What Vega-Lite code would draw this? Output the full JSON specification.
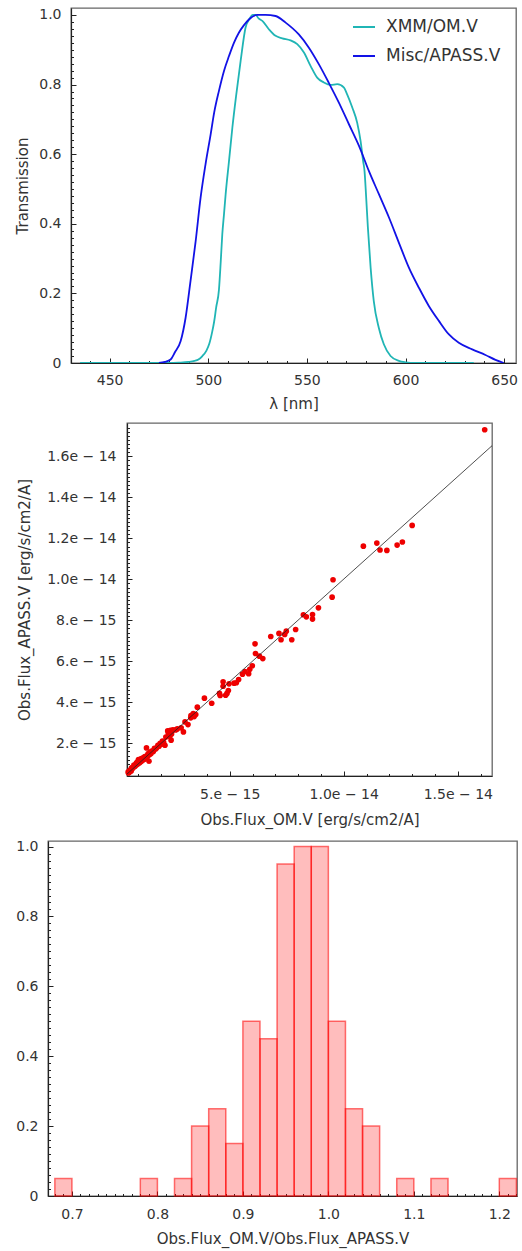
{
  "$schema": "https://vega.github.io/schema/vega-lite/v6.json",
  "background": "white",
  "padding": {"left": 0, "top": 7, "right": 0, "bottom": 6},
  "columns": 1,
  "align": "none",
  "spacing": 10,
  "resolve": {"scale": {"color": "independent"}, "legend": {"color": "independent"}},
  "concat": [
    {
      "spacing": 0,
      "resolve": {"scale": {"color": "independent"}, "legend": {"color": "independent"}},
      "hconcat": [
        {"width": 15, "height": 10, "data": {"values": [{"s": 0}]}, "mark": {"type": "point", "opacity": 0}, "encoding": {}, "view": {"stroke": null}},
        {
          "width": 445, "height": 355,
          "data": {"values": [
            {"filter": "XMM/OM.V", "wl": 435, "t": 0},
            {"filter": "XMM/OM.V", "wl": 450, "t": 0},
            {"filter": "XMM/OM.V", "wl": 470, "t": 0},
            {"filter": "XMM/OM.V", "wl": 480, "t": 0},
            {"filter": "XMM/OM.V", "wl": 485, "t": 0.001},
            {"filter": "XMM/OM.V", "wl": 490, "t": 0.003},
            {"filter": "XMM/OM.V", "wl": 493, "t": 0.006},
            {"filter": "XMM/OM.V", "wl": 495, "t": 0.01},
            {"filter": "XMM/OM.V", "wl": 497, "t": 0.02},
            {"filter": "XMM/OM.V", "wl": 499, "t": 0.035},
            {"filter": "XMM/OM.V", "wl": 500.5, "t": 0.055},
            {"filter": "XMM/OM.V", "wl": 502, "t": 0.09},
            {"filter": "XMM/OM.V", "wl": 503, "t": 0.12},
            {"filter": "XMM/OM.V", "wl": 504, "t": 0.16},
            {"filter": "XMM/OM.V", "wl": 505.4, "t": 0.21},
            {"filter": "XMM/OM.V", "wl": 506.3, "t": 0.29},
            {"filter": "XMM/OM.V", "wl": 507.1, "t": 0.37},
            {"filter": "XMM/OM.V", "wl": 508, "t": 0.43},
            {"filter": "XMM/OM.V", "wl": 508.8, "t": 0.485},
            {"filter": "XMM/OM.V", "wl": 510.5, "t": 0.58},
            {"filter": "XMM/OM.V", "wl": 512.2, "t": 0.676},
            {"filter": "XMM/OM.V", "wl": 514.2, "t": 0.772},
            {"filter": "XMM/OM.V", "wl": 516.4, "t": 0.868},
            {"filter": "XMM/OM.V", "wl": 518.9, "t": 0.964},
            {"filter": "XMM/OM.V", "wl": 521, "t": 0.99},
            {"filter": "XMM/OM.V", "wl": 522.5, "t": 1.0},
            {"filter": "XMM/OM.V", "wl": 524, "t": 1.0},
            {"filter": "XMM/OM.V", "wl": 525.5, "t": 0.99},
            {"filter": "XMM/OM.V", "wl": 527.4, "t": 0.983},
            {"filter": "XMM/OM.V", "wl": 530.7, "t": 0.959},
            {"filter": "XMM/OM.V", "wl": 534.1, "t": 0.94},
            {"filter": "XMM/OM.V", "wl": 537.5, "t": 0.933},
            {"filter": "XMM/OM.V", "wl": 541.7, "t": 0.927},
            {"filter": "XMM/OM.V", "wl": 545.1, "t": 0.916},
            {"filter": "XMM/OM.V", "wl": 548.5, "t": 0.892},
            {"filter": "XMM/OM.V", "wl": 551.9, "t": 0.853},
            {"filter": "XMM/OM.V", "wl": 555.2, "t": 0.82},
            {"filter": "XMM/OM.V", "wl": 558.6, "t": 0.806},
            {"filter": "XMM/OM.V", "wl": 562, "t": 0.799},
            {"filter": "XMM/OM.V", "wl": 565.4, "t": 0.801},
            {"filter": "XMM/OM.V", "wl": 568.8, "t": 0.791},
            {"filter": "XMM/OM.V", "wl": 570.4, "t": 0.772},
            {"filter": "XMM/OM.V", "wl": 573, "t": 0.734},
            {"filter": "XMM/OM.V", "wl": 575.5, "t": 0.69},
            {"filter": "XMM/OM.V", "wl": 577.2, "t": 0.638},
            {"filter": "XMM/OM.V", "wl": 578.5, "t": 0.58},
            {"filter": "XMM/OM.V", "wl": 579.2, "t": 0.552},
            {"filter": "XMM/OM.V", "wl": 580, "t": 0.48},
            {"filter": "XMM/OM.V", "wl": 580.9, "t": 0.39},
            {"filter": "XMM/OM.V", "wl": 582.3, "t": 0.274},
            {"filter": "XMM/OM.V", "wl": 583.9, "t": 0.178},
            {"filter": "XMM/OM.V", "wl": 586.5, "t": 0.1},
            {"filter": "XMM/OM.V", "wl": 589, "t": 0.054},
            {"filter": "XMM/OM.V", "wl": 592.4, "t": 0.02},
            {"filter": "XMM/OM.V", "wl": 596.6, "t": 0.006},
            {"filter": "XMM/OM.V", "wl": 600, "t": 0.002},
            {"filter": "XMM/OM.V", "wl": 605, "t": 0},
            {"filter": "XMM/OM.V", "wl": 634.6, "t": 0},
            {"filter": "Misc/APASS.V", "wl": 475, "t": 0},
            {"filter": "Misc/APASS.V", "wl": 478, "t": 0.003},
            {"filter": "Misc/APASS.V", "wl": 480.9, "t": 0.01},
            {"filter": "Misc/APASS.V", "wl": 483, "t": 0.03},
            {"filter": "Misc/APASS.V", "wl": 486, "t": 0.063},
            {"filter": "Misc/APASS.V", "wl": 488.5, "t": 0.13},
            {"filter": "Misc/APASS.V", "wl": 491, "t": 0.236},
            {"filter": "Misc/APASS.V", "wl": 493.6, "t": 0.35},
            {"filter": "Misc/APASS.V", "wl": 496.1, "t": 0.475},
            {"filter": "Misc/APASS.V", "wl": 498.6, "t": 0.571},
            {"filter": "Misc/APASS.V", "wl": 501.2, "t": 0.657},
            {"filter": "Misc/APASS.V", "wl": 503, "t": 0.72},
            {"filter": "Misc/APASS.V", "wl": 505.4, "t": 0.782},
            {"filter": "Misc/APASS.V", "wl": 508, "t": 0.84},
            {"filter": "Misc/APASS.V", "wl": 510.5, "t": 0.882},
            {"filter": "Misc/APASS.V", "wl": 513, "t": 0.92},
            {"filter": "Misc/APASS.V", "wl": 515.5, "t": 0.949},
            {"filter": "Misc/APASS.V", "wl": 518, "t": 0.97},
            {"filter": "Misc/APASS.V", "wl": 520.6, "t": 0.987},
            {"filter": "Misc/APASS.V", "wl": 524.8, "t": 1.0},
            {"filter": "Misc/APASS.V", "wl": 529, "t": 1.0},
            {"filter": "Misc/APASS.V", "wl": 534.1, "t": 0.997},
            {"filter": "Misc/APASS.V", "wl": 539.2, "t": 0.978},
            {"filter": "Misc/APASS.V", "wl": 545.9, "t": 0.944},
            {"filter": "Misc/APASS.V", "wl": 551, "t": 0.906},
            {"filter": "Misc/APASS.V", "wl": 556.1, "t": 0.858},
            {"filter": "Misc/APASS.V", "wl": 561.1, "t": 0.805},
            {"filter": "Misc/APASS.V", "wl": 566.2, "t": 0.748},
            {"filter": "Misc/APASS.V", "wl": 571.3, "t": 0.686},
            {"filter": "Misc/APASS.V", "wl": 576.4, "t": 0.624},
            {"filter": "Misc/APASS.V", "wl": 581.4, "t": 0.552},
            {"filter": "Misc/APASS.V", "wl": 586.5, "t": 0.485},
            {"filter": "Misc/APASS.V", "wl": 591.6, "t": 0.418},
            {"filter": "Misc/APASS.V", "wl": 596.6, "t": 0.346},
            {"filter": "Misc/APASS.V", "wl": 601.7, "t": 0.274},
            {"filter": "Misc/APASS.V", "wl": 606.8, "t": 0.216},
            {"filter": "Misc/APASS.V", "wl": 611.8, "t": 0.164},
            {"filter": "Misc/APASS.V", "wl": 616.9, "t": 0.121},
            {"filter": "Misc/APASS.V", "wl": 622, "t": 0.082},
            {"filter": "Misc/APASS.V", "wl": 627, "t": 0.058},
            {"filter": "Misc/APASS.V", "wl": 633.8, "t": 0.039},
            {"filter": "Misc/APASS.V", "wl": 640.5, "t": 0.023},
            {"filter": "Misc/APASS.V", "wl": 645.6, "t": 0.009},
            {"filter": "Misc/APASS.V", "wl": 649.8, "t": 0}
          ]},
          "layer": [
            {
              "mark": {"type": "line", "strokeWidth": 1.8, "clip": true, "interpolate": "monotone"},
              "encoding": {
                "x": {"field": "wl", "type": "quantitative", "scale": {"domain": [430.4, 656], "nice": false, "zero": false},
                      "axis": {"title": "λ [nm]", "values": [450, 500, 550, 600, 650], "format": "d", "titlePadding": 9}},
                "y": {"field": "t", "type": "quantitative", "scale": {"domain": [0, 1.02], "nice": false, "zero": false},
                      "axis": {"title": "Transmission", "values": [0, 0.2, 0.4, 0.6, 0.8, 1.0], "labelExpr": "datum.value == 0 ? '0' : format(datum.value, '.1f')", "titlePadding": 8}},
                "color": {"field": "filter", "type": "nominal",
                          "scale": {"domain": ["XMM/OM.V", "Misc/APASS.V"], "range": ["#20b5b5", "#1212e6"]},
                          "legend": {"title": null, "orient": "none", "legendX": 281, "legendY": 7, "symbolType": "stroke", "symbolSize": 484, "symbolStrokeWidth": 2, "labelFontSize": 17, "labelOffset": 10, "rowPadding": 9, "labelColor": "#333", "labelFont": "DejaVu Sans"}}
              }
            },
            {
              "mark": {"type": "point", "opacity": 0},
              "encoding": {
                "x": {"field": "wl", "type": "quantitative", "scale": {"domain": [430.4, 656], "nice": false, "zero": false},
                      "axis": {"orient": "bottom", "labels": false, "domain": false, "title": null, "tickSize": -2.5, "values": [440, 460, 470, 480, 490, 510, 520, 530, 540, 560, 570, 580, 590, 610, 620, 630, 640]}},
                "y": {"field": "t", "type": "quantitative", "scale": {"domain": [0, 1.02], "nice": false, "zero": false},
                      "axis": {"orient": "left", "labels": false, "domain": false, "title": null, "tickSize": -2.5, "values": [0.02, 0.04, 0.06, 0.08, 0.1, 0.12, 0.14, 0.16, 0.18, 0.22, 0.24, 0.26, 0.28, 0.3, 0.32, 0.34, 0.36, 0.38, 0.42, 0.44, 0.46, 0.48, 0.5, 0.52, 0.54, 0.56, 0.58, 0.62, 0.64, 0.66, 0.68, 0.7, 0.72, 0.74, 0.76, 0.78, 0.82, 0.84, 0.86, 0.88, 0.9, 0.92, 0.94, 0.96, 0.98]}}
              }
            }
          ],
          "resolve": {"axis": {"x": "independent", "y": "independent"}}
        }
      ]
    },
    {
      "spacing": 0,
      "hconcat": [
        {"width": 17, "height": 10, "data": {"values": [{"s": 0}]}, "mark": {"type": "point", "opacity": 0}, "encoding": {}, "view": {"stroke": null}},
        {
          "width": 365, "height": 353,
          "data": {"values": [
            {"om": 16.18e-15, "ap": 17.30e-15}, {"om": 13.0e-15, "ap": 12.63e-15}, {"om": 12.57e-15, "ap": 11.82e-15},
            {"om": 12.34e-15, "ap": 11.67e-15}, {"om": 11.89e-15, "ap": 11.41e-15}, {"om": 11.59e-15, "ap": 11.43e-15},
            {"om": 11.45e-15, "ap": 11.77e-15}, {"om": 10.86e-15, "ap": 11.62e-15}, {"om": 9.53e-15, "ap": 9.98e-15},
            {"om": 9.49e-15, "ap": 9.13e-15}, {"om": 8.89e-15, "ap": 8.61e-15}, {"om": 8.63e-15, "ap": 8.28e-15},
            {"om": 8.63e-15, "ap": 8.06e-15}, {"om": 8.36e-15, "ap": 8.17e-15}, {"om": 8.23e-15, "ap": 8.27e-15},
            {"om": 7.89e-15, "ap": 7.55e-15}, {"om": 7.72e-15, "ap": 7.05e-15}, {"om": 7.48e-15, "ap": 7.47e-15},
            {"om": 7.41e-15, "ap": 7.31e-15}, {"om": 7.25e-15, "ap": 7.05e-15}, {"om": 7.16e-15, "ap": 7.36e-15},
            {"om": 6.80e-15, "ap": 7.21e-15}, {"om": 6.11e-15, "ap": 6.85e-15}, {"om": 6.13e-15, "ap": 6.38e-15},
            {"om": 6.30e-15, "ap": 6.25e-15}, {"om": 6.45e-15, "ap": 6.13e-15}, {"om": 5.99e-15, "ap": 5.78e-15},
            {"om": 5.88e-15, "ap": 5.61e-15}, {"om": 5.83e-15, "ap": 5.39e-15}, {"om": 5.67e-15, "ap": 5.50e-15},
            {"om": 5.56e-15, "ap": 5.37e-15}, {"om": 5.39e-15, "ap": 5.11e-15}, {"om": 5.29e-15, "ap": 4.95e-15},
            {"om": 5.19e-15, "ap": 4.93e-15}, {"om": 4.97e-15, "ap": 4.90e-15}, {"om": 4.94e-15, "ap": 4.57e-15},
            {"om": 4.88e-15, "ap": 4.43e-15}, {"om": 4.82e-15, "ap": 4.34e-15}, {"om": 4.71e-15, "ap": 5.00e-15},
            {"om": 4.71e-15, "ap": 4.78e-15}, {"om": 4.55e-15, "ap": 4.43e-15}, {"om": 4.58e-15, "ap": 4.33e-15},
            {"om": 4.21e-15, "ap": 3.95e-15}, {"om": 3.89e-15, "ap": 4.20e-15}, {"om": 3.58e-15, "ap": 3.76e-15},
            {"om": 3.51e-15, "ap": 3.40e-15}, {"om": 3.44e-15, "ap": 3.30e-15}, {"om": 3.29e-15, "ap": 3.24e-15},
            {"om": 3.17e-15, "ap": 2.91e-15}, {"om": 3.04e-15, "ap": 3.04e-15}, {"om": 2.97e-15, "ap": 2.55e-15},
            {"om": 2.87e-15, "ap": 2.75e-15}, {"om": 2.63e-15, "ap": 2.65e-15}, {"om": 2.51e-15, "ap": 2.65e-15},
            {"om": 2.40e-15, "ap": 2.63e-15}, {"om": 2.43e-15, "ap": 2.15e-15}, {"om": 2.37e-15, "ap": 2.34e-15},
            {"om": 2.31e-15, "ap": 2.47e-15}, {"om": 2.16e-15, "ap": 1.90e-15}, {"om": 2.05e-15, "ap": 2.10e-15},
            {"om": 1.90e-15, "ap": 1.85e-15}, {"om": 1.75e-15, "ap": 1.72e-15}, {"om": 1.61e-15, "ap": 1.61e-15},
            {"om": 1.49e-15, "ap": 1.45e-15}, {"om": 1.35e-15, "ap": 1.77e-15}, {"om": 1.46e-15, "ap": 1.12e-15},
            {"om": 1.32e-15, "ap": 1.32e-15}, {"om": 1.17e-15, "ap": 1.25e-15}, {"om": 1.02e-15, "ap": 1.12e-15},
            {"om": 0.91e-15, "ap": 1.04e-15}, {"om": 0.80e-15, "ap": 0.93e-15}, {"om": 0.70e-15, "ap": 0.80e-15},
            {"om": 0.61e-15, "ap": 0.67e-15}, {"om": 0.56e-15, "ap": 0.55e-15},
            {"om": 0.55e-15, "ap": 0.60e-15}, {"om": 0.60e-15, "ap": 0.58e-15}, {"om": 0.65e-15, "ap": 0.70e-15},
            {"om": 0.68e-15, "ap": 0.65e-15}, {"om": 0.72e-15, "ap": 0.80e-15}, {"om": 0.75e-15, "ap": 0.78e-15},
            {"om": 0.80e-15, "ap": 0.85e-15}, {"om": 0.82e-15, "ap": 0.90e-15}, {"om": 0.85e-15, "ap": 0.88e-15},
            {"om": 0.88e-15, "ap": 0.95e-15}, {"om": 0.90e-15, "ap": 1.00e-15}, {"om": 0.92e-15, "ap": 0.95e-15},
            {"om": 0.95e-15, "ap": 1.05e-15}, {"om": 0.98e-15, "ap": 1.00e-15}, {"om": 1.00e-15, "ap": 1.20e-15},
            {"om": 1.05e-15, "ap": 1.05e-15}, {"om": 1.08e-15, "ap": 1.15e-15}, {"om": 1.10e-15, "ap": 1.20e-15},
            {"om": 1.12e-15, "ap": 1.10e-15}, {"om": 1.15e-15, "ap": 1.20e-15}, {"om": 1.20e-15, "ap": 1.18e-15},
            {"om": 1.22e-15, "ap": 1.30e-15}, {"om": 1.25e-15, "ap": 1.22e-15}, {"om": 1.28e-15, "ap": 1.35e-15},
            {"om": 1.30e-15, "ap": 1.28e-15}, {"om": 1.38e-15, "ap": 1.40e-15}, {"om": 1.40e-15, "ap": 1.35e-15},
            {"om": 1.42e-15, "ap": 1.48e-15}, {"om": 1.45e-15, "ap": 1.50e-15}, {"om": 1.50e-15, "ap": 1.55e-15},
            {"om": 1.55e-15, "ap": 1.50e-15}, {"om": 1.58e-15, "ap": 1.62e-15}, {"om": 1.65e-15, "ap": 1.60e-15},
            {"om": 1.70e-15, "ap": 1.75e-15}, {"om": 1.80e-15, "ap": 1.78e-15}, {"om": 1.85e-15, "ap": 1.90e-15},
            {"om": 1.95e-15, "ap": 2.00e-15}, {"om": 2.00e-15, "ap": 1.95e-15}, {"om": 2.10e-15, "ap": 2.05e-15},
            {"om": 2.20e-15, "ap": 2.30e-15}, {"om": 2.28e-15, "ap": 2.60e-15}, {"om": 2.45e-15, "ap": 2.45e-15},
            {"om": 2.70e-15, "ap": 2.70e-15}, {"om": 3.30e-15, "ap": 3.35e-15}, {"om": 3.40e-15, "ap": 3.45e-15},
            {"om": 1.12e-15, "ap": 1.25e-15}, {"om": 0.98e-15, "ap": 1.12e-15}
          ]},
          "layer": [
            {
              "mark": {"type": "circle", "size": 32, "color": "#ee0000", "opacity": 1},
              "encoding": {
                "x": {"field": "om", "type": "quantitative", "scale": {"domain": [0.496e-15, 16.5e-15], "nice": false, "zero": false},
                      "axis": {"title": "Obs.Flux_OM.V [erg/s/cm2/A]", "values": [5e-15, 1e-14, 1.5e-14], "labelExpr": "datum.value < 9e-15 ? format(datum.value*1e15, '.0f') + '.e − 15' : format(datum.value*1e14, '.1f') + 'e − 14'", "labelPadding": 16, "titlePadding": 11}},
                "y": {"field": "ap", "type": "quantitative", "scale": {"domain": [0.4e-15, 17.63e-15], "nice": false, "zero": false},
                      "axis": {"title": "Obs.Flux_APASS.V [erg/s/cm2/A]", "values": [2e-15, 4e-15, 6e-15, 8e-15, 1e-14, 1.2e-14, 1.4e-14, 1.6e-14], "labelExpr": "datum.value < 9e-15 ? format(datum.value*1e15, '.0f') + '.e − 15' : format(datum.value*1e14, '.1f') + 'e − 14'", "labelPadding": 16, "titlePadding": 14}}
              }
            },
            {
              "data": {"values": [{"om": 0.496e-15, "ap": 0.496e-15}, {"om": 16.5e-15, "ap": 16.52e-15}]},
              "mark": {"type": "line", "color": "#222", "strokeWidth": 0.8, "clip": true},
              "encoding": {
                "x": {"field": "om", "type": "quantitative", "scale": {"domain": [0.496e-15, 16.5e-15], "nice": false, "zero": false}, "axis": null},
                "y": {"field": "ap", "type": "quantitative", "scale": {"domain": [0.4e-15, 17.63e-15], "nice": false, "zero": false}, "axis": null}
              }
            },
            {
              "mark": {"type": "point", "opacity": 0},
              "encoding": {
                "x": {"field": "om", "type": "quantitative", "scale": {"domain": [0.496e-15, 16.5e-15], "nice": false, "zero": false},
                      "axis": {"orient": "bottom", "labels": false, "domain": false, "title": null, "tickSize": -2.5, "values": [1e-15, 2e-15, 3e-15, 4e-15, 6e-15, 7e-15, 8e-15, 9e-15, 11e-15, 12e-15, 13e-15, 14e-15, 16e-15]}},
                "y": {"field": "ap", "type": "quantitative", "scale": {"domain": [0.4e-15, 17.63e-15], "nice": false, "zero": false},
                      "axis": {"orient": "left", "labels": false, "domain": false, "title": null, "tickSize": -2.5, "values": [4e-16, 6e-16, 8e-16, 10e-16, 12e-16, 14e-16, 16e-16, 18e-16, 22e-16, 24e-16, 26e-16, 28e-16, 30e-16, 32e-16, 34e-16, 36e-16, 38e-16, 42e-16, 44e-16, 46e-16, 48e-16, 50e-16, 52e-16, 54e-16, 56e-16, 58e-16, 62e-16, 64e-16, 66e-16, 68e-16, 70e-16, 72e-16, 74e-16, 76e-16, 78e-16, 82e-16, 84e-16, 86e-16, 88e-16, 90e-16, 92e-16, 94e-16, 96e-16, 98e-16, 102e-16, 104e-16, 106e-16, 108e-16, 110e-16, 112e-16, 114e-16, 116e-16, 118e-16, 122e-16, 124e-16, 126e-16, 128e-16, 130e-16, 132e-16, 134e-16, 136e-16, 138e-16, 142e-16, 144e-16, 146e-16, 148e-16, 150e-16, 152e-16, 154e-16, 156e-16, 158e-16, 162e-16, 164e-16, 166e-16, 168e-16, 170e-16, 172e-16, 174e-16]}}
              }
            }
          ],
          "resolve": {"axis": {"x": "independent", "y": "independent"}}
        }
      ]
    },
    {
      "spacing": 0,
      "hconcat": [
        {"width": 15, "height": 10, "data": {"values": [{"s": 0}]}, "mark": {"type": "point", "opacity": 0}, "encoding": {}, "view": {"stroke": null}},
        {
          "width": 469, "height": 355,
          "data": {"values": [
            {"lo": 0.68, "hi": 0.70, "v": 0.05},
            {"lo": 0.78, "hi": 0.80, "v": 0.05},
            {"lo": 0.82, "hi": 0.84, "v": 0.05},
            {"lo": 0.84, "hi": 0.86, "v": 0.2},
            {"lo": 0.86, "hi": 0.88, "v": 0.25},
            {"lo": 0.88, "hi": 0.90, "v": 0.15},
            {"lo": 0.90, "hi": 0.92, "v": 0.5},
            {"lo": 0.92, "hi": 0.94, "v": 0.45},
            {"lo": 0.94, "hi": 0.96, "v": 0.95},
            {"lo": 0.96, "hi": 0.98, "v": 1.0},
            {"lo": 0.98, "hi": 1.00, "v": 1.0},
            {"lo": 1.00, "hi": 1.02, "v": 0.5},
            {"lo": 1.02, "hi": 1.04, "v": 0.25},
            {"lo": 1.04, "hi": 1.06, "v": 0.2},
            {"lo": 1.08, "hi": 1.10, "v": 0.05},
            {"lo": 1.12, "hi": 1.14, "v": 0.05},
            {"lo": 1.20, "hi": 1.22, "v": 0.05}
          ]},
          "layer": [
            {
              "mark": {"type": "bar", "fill": "#ff0000", "fillOpacity": 0.26, "stroke": "#ff0000", "strokeOpacity": 0.55, "strokeWidth": 1.5},
              "encoding": {
                "x": {"field": "lo", "type": "quantitative", "scale": {"domain": [0.672, 1.2207], "nice": false, "zero": false},
                      "axis": {"title": "Obs.Flux_OM.V/Obs.Flux_APASS.V", "values": [0.7, 0.8, 0.9, 1.0, 1.1, 1.2], "format": ".1f", "labelPadding": 16, "titlePadding": 10}},
                "x2": {"field": "hi"},
                "y": {"field": "v", "type": "quantitative", "scale": {"domain": [0, 1.016], "nice": false},
                      "axis": {"title": null, "values": [0, 0.2, 0.4, 0.6, 0.8, 1.0], "labelExpr": "datum.value == 0 ? '0' : format(datum.value, '.1f')"}},
                "y2": {"datum": 0}
              }
            },
            {
              "mark": {"type": "point", "opacity": 0},
              "encoding": {
                "x": {"field": "lo", "type": "quantitative", "scale": {"domain": [0.672, 1.2207], "nice": false, "zero": false},
                      "axis": {"orient": "bottom", "labels": false, "domain": false, "title": null, "tickSize": -2.5, "values": [0.68, 0.69, 0.71, 0.72, 0.73, 0.74, 0.75, 0.76, 0.77, 0.78, 0.79, 0.81, 0.82, 0.83, 0.84, 0.85, 0.86, 0.87, 0.88, 0.89, 0.91, 0.92, 0.93, 0.94, 0.95, 0.96, 0.97, 0.98, 0.99, 1.01, 1.02, 1.03, 1.04, 1.05, 1.06, 1.07, 1.08, 1.09, 1.11, 1.12, 1.13, 1.14, 1.15, 1.16, 1.17, 1.18, 1.19, 1.21, 1.22]}},
                "y": {"field": "v", "type": "quantitative", "scale": {"domain": [0, 1.016], "nice": false},
                      "axis": {"orient": "left", "labels": false, "domain": false, "title": null, "tickSize": -2.5, "values": [0.02, 0.04, 0.06, 0.08, 0.1, 0.12, 0.14, 0.16, 0.18, 0.22, 0.24, 0.26, 0.28, 0.3, 0.32, 0.34, 0.36, 0.38, 0.42, 0.44, 0.46, 0.48, 0.5, 0.52, 0.54, 0.56, 0.58, 0.62, 0.64, 0.66, 0.68, 0.7, 0.72, 0.74, 0.76, 0.78, 0.82, 0.84, 0.86, 0.88, 0.9, 0.92, 0.94, 0.96, 0.98]}}
              }
            }
          ],
          "resolve": {"axis": {"x": "independent", "y": "independent"}}
        }
      ]
    }
  ],
  "config": {
    "font": "DejaVu Sans",
    "view": {"stroke": "#666", "strokeWidth": 1.3},
    "axis": {
      "grid": false, "zindex": 1,
      "labelFont": "DejaVu Sans", "labelFontSize": 14, "labelColor": "#333",
      "titleFont": "DejaVu Sans", "titleFontSize": 15, "titleFontWeight": "normal", "titleColor": "#333",
      "domainColor": "#222", "domainWidth": 1.2,
      "tickColor": "#222", "tickWidth": 1, "tickSize": -5,
      "labelPadding": 15, "labelFlush": false, "labelOverlap": false
    }
  }
}
